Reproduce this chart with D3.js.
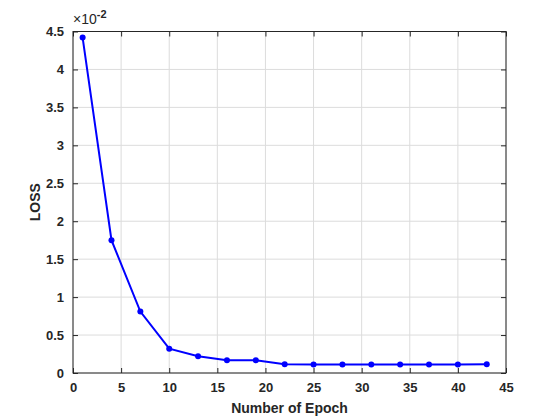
<!DOCTYPE html>
<html>
<head>
<meta charset="utf-8">
<script src="https://cdn.jsdelivr.net/npm/d3@7"></script>
<style>
  body { margin: 0; background: #fff; }
  text { font-family: "Liberation Sans", Arial, sans-serif; }
</style>
</head>
<body>
<div id="chart"></div>
<script>
// epochs and loss values (loss in units of 1e-2)
const epochs = [1, 4, 7, 10, 13, 16, 19, 22, 25, 28, 31, 34, 37, 40, 43];
const loss = [4.42, 1.75, 0.81, 0.32, 0.22, 0.167, 0.167, 0.115, 0.113, 0.112, 0.112, 0.113, 0.112, 0.113, 0.115];
const xTicks = [0, 5, 10, 15, 20, 25, 30, 35, 40, 45];
const yTicks = [0, 0.5, 1, 1.5, 2, 2.5, 3, 3.5, 4, 4.5];

const width = 560, height = 420;
const margin = { top: 31.5, right: 54, bottom: 47, left: 73 };
const iw = width - margin.left - margin.right;
const ih = height - margin.top - margin.bottom;

const svg = d3.select("#chart").append("svg")
  .attr("width", width)
  .attr("height", height);

const g = svg.append("g").attr("transform", `translate(${margin.left},${margin.top})`);

const x = d3.scaleLinear().domain([0, 45]).range([0, iw]);
const y = d3.scaleLinear().domain([0, 4.5]).range([ih, 0]);

// grid
g.selectAll(".gx").data(xTicks).enter().append("line")
  .attr("x1", d => x(d)).attr("x2", d => x(d))
  .attr("y1", 0).attr("y2", ih)
  .attr("stroke", "#dcdcdc").attr("stroke-width", 1);
g.selectAll(".gy").data(yTicks).enter().append("line")
  .attr("y1", d => y(d)).attr("y2", d => y(d))
  .attr("x1", 0).attr("x2", iw)
  .attr("stroke", "#dcdcdc").attr("stroke-width", 1);

// axes with inward ticks
const axisColor = "#262626";
function styleAxis(sel) {
  sel.select(".domain").remove();
  sel.selectAll(".tick line").attr("stroke", axisColor);
  sel.selectAll(".tick text")
    .attr("fill", axisColor)
    .style("font-size", "13px")
    .style("font-weight", "bold");
}

g.append("g").attr("transform", `translate(0,${ih})`)
  .call(d3.axisBottom(x).tickValues(xTicks).tickSize(-5).tickPadding(10).tickFormat(d3.format("d")))
  .call(styleAxis);
g.append("g")
  .call(d3.axisTop(x).tickValues(xTicks).tickSize(-5).tickFormat(""))
  .call(styleAxis);
g.append("g")
  .call(d3.axisLeft(y).tickValues(yTicks).tickSize(-5).tickPadding(9).tickFormat(d => d))
  .call(styleAxis);
g.append("g").attr("transform", `translate(${iw},0)`)
  .call(d3.axisRight(y).tickValues(yTicks).tickSize(-5).tickFormat(""))
  .call(styleAxis);

g.append("rect")
  .attr("width", iw).attr("height", ih)
  .attr("fill", "none").attr("stroke", axisColor).attr("stroke-width", 1);

// line + markers
const line = d3.line().x((d, i) => x(epochs[i])).y(d => y(d));
g.append("path").datum(loss)
  .attr("d", line)
  .attr("fill", "none")
  .attr("stroke", "#0000ff")
  .attr("stroke-width", 2);
g.selectAll(".pt").data(loss).enter().append("circle")
  .attr("cx", (d, i) => x(epochs[i]))
  .attr("cy", d => y(d))
  .attr("r", 3)
  .attr("fill", "#0000ff");

// exponent label
const ex = svg.append("text")
  .attr("x", margin.left)
  .attr("y", margin.top - 8)
  .attr("fill", axisColor)
  .style("font-size", "14px");
ex.append("tspan").text("×10");
ex.append("tspan").attr("dy", -6).style("font-size", "11px").style("font-weight", "bold").text("-2");

// axis labels
svg.append("text")
  .attr("x", margin.left + iw / 2)
  .attr("y", 413)
  .attr("text-anchor", "middle")
  .attr("fill", axisColor)
  .style("font-size", "14px")
  .style("font-weight", "bold")
  .text("Number of Epoch");
svg.append("text")
  .attr("transform", `translate(40,${margin.top + ih / 2}) rotate(-90)`)
  .attr("text-anchor", "middle")
  .attr("fill", axisColor)
  .style("font-size", "14px")
  .style("font-weight", "bold")
  .text("LOSS");
</script>
</body>
</html>
